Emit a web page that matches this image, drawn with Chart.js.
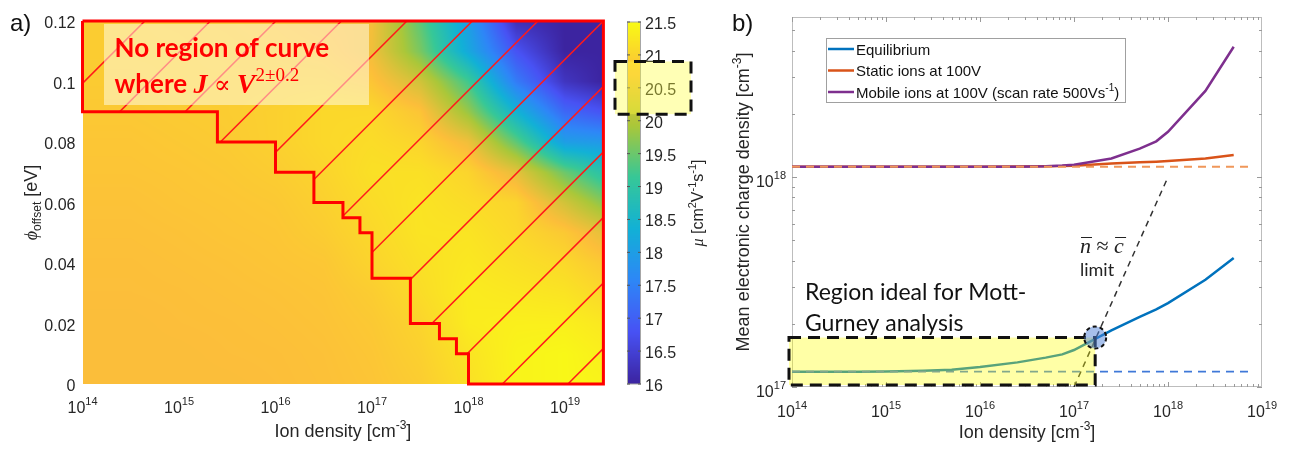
<!DOCTYPE html>
<html>
<head>
<meta charset="utf-8">
<script src="https://cdn.jsdelivr.net/npm/chart.js@4.4.1/dist/chart.umd.min.js"></script>
<style>
  body { margin: 0; background: #fff; }
  .layer { position: absolute; left: 0; top: 0; width: 1296px; height: 452px; }
</style>
</head>
<body>
<div class="layer"><canvas id="mapChart" width="1296" height="452"></canvas></div>
<div class="layer"><canvas id="barChart" width="1296" height="452"></canvas></div>
<div class="layer"><canvas id="densChart" width="1296" height="452"></canvas></div>
<script>
// ---------- panel a) : mobility map ----------
const ionGrid = [1e14, 3.16e14, 1e15, 3.16e15, 1e16, 3.16e16, 1e17, 3.16e17, 1e18, 3.16e18, 1e19, 2.5e19];
const phiGrid = [0, 0.01, 0.02, 0.03, 0.04, 0.05, 0.06, 0.07, 0.08, 0.09, 0.10, 0.11, 0.12];
// mu [cm2 V-1 s-1], one row per phiGrid value (phi = 0 first)
const mobility = [
  [20.7, 20.7, 20.7, 20.7, 20.72, 20.75, 20.8, 20.9, 21.15, 21.4, 21.45, 21.4],
  [20.7, 20.7, 20.7, 20.72, 20.73, 20.76, 20.82, 20.95, 21.2, 21.4, 21.45, 21.35],
  [20.7, 20.7, 20.72, 20.73, 20.75, 20.78, 20.85, 21.0, 21.3, 21.35, 21.35, 21.25],
  [20.72, 20.72, 20.73, 20.75, 20.77, 20.8, 20.9, 21.1, 21.3, 21.25, 21.2, 21.05],
  [20.73, 20.73, 20.75, 20.77, 20.8, 20.83, 21.0, 21.15, 21.25, 21.15, 21.05, 20.85],
  [20.75, 20.75, 20.77, 20.8, 20.82, 20.9, 21.05, 21.2, 21.2, 21.05, 20.85, 20.5],
  [20.77, 20.77, 20.8, 20.82, 20.85, 20.95, 21.1, 21.2, 21.1, 21.0, 20.3, 19.7],
  [20.8, 20.8, 20.82, 20.85, 20.9, 21.0, 21.15, 21.15, 21.0, 20.5, 19.5, 18.9],
  [20.82, 20.82, 20.85, 20.88, 20.95, 21.05, 21.1, 21.0, 20.6, 19.4, 18.0, 17.9],
  [20.85, 20.85, 20.88, 20.9, 20.95, 21.05, 21.05, 20.8, 19.8, 18.4, 17.1, 16.8],
  [20.88, 20.88, 20.9, 20.9, 20.9, 20.9, 20.8, 20.3, 19.2, 17.4, 16.3, 16.0],
  [20.9, 20.9, 20.9, 20.88, 20.85, 20.8, 20.6, 19.6, 18.2, 16.8, 16.0, 16.0],
  [20.9, 20.9, 20.88, 20.85, 20.8, 20.7, 20.65, 19.4, 18.0, 16.2, 16.0, 16.0]
];
// outline of the "no J ~ V^2" region
const edgeIon = [1e14, 2.5e19, 2.5e19, 1e18, 1e18, 7.5e17, 7.5e17, 5e17, 5e17, 2.5e17, 2.5e17, 1e17, 1e17,
  7.5e16, 7.5e16, 5e16, 5e16, 2.5e16, 2.5e16, 1e16, 1e16, 2.5e15, 2.5e15, 1e14, 1e14];
const edgePhi = [0.12, 0.12, 0, 0, 0.01, 0.01, 0.015, 0.015, 0.02, 0.02, 0.035, 0.035, 0.05,
  0.05, 0.055, 0.055, 0.06, 0.06, 0.07, 0.07, 0.08, 0.08, 0.09, 0.09, 0.12];
const phiTicks = [0, 0.02, 0.04, 0.06, 0.08, 0.1, 0.12];
const ionExpTicks = [14, 15, 16, 17, 18, 19];
const colorTicks = [16, 16.5, 17, 17.5, 18, 18.5, 19, 19.5, 20, 20.5, 21, 21.5];
const highlightMu = [20.1, 20.9];

// ---------- panel b) : mean electronic charge density ----------
const ionDensity = [1e14, 2.5e14, 5e14, 1e15, 2.5e15, 5e15, 1e16, 2.5e16, 5e16, 7.5e16, 1e17, 2.5e17, 5e17, 7.5e17, 1e18, 2.5e18, 5e18];
const equilibrium = [1.183e17, 1.183e17, 1.183e17, 1.186e17, 1.194e17, 1.208e17, 1.245e17, 1.31e17, 1.38e17, 1.43e17,
  1.50e17, 1.86e17, 2.16e17, 2.34e17, 2.51e17, 3.24e17, 4.11e17];
const staticIons = [1.119e18, 1.119e18, 1.119e18, 1.119e18, 1.119e18, 1.119e18, 1.12e18, 1.122e18, 1.125e18, 1.127e18,
  1.132e18, 1.159e18, 1.175e18, 1.183e18, 1.191e18, 1.225e18, 1.274e18];
const mobileIons = [1.119e18, 1.119e18, 1.119e18, 1.119e18, 1.119e18, 1.119e18, 1.119e18, 1.12e18, 1.125e18, 1.133e18,
  1.143e18, 1.225e18, 1.365e18, 1.479e18, 1.641e18, 2.57e18, 4.169e18];
const equilibriumBase = 1.183e17;
const staticBase = 1.119e18;
const baseRange = [1e14, 8e18];
const limitIon = [1e17, 1e18];
const limitDensity = [1e17, 1e18];
const mottPoint = { x: 1.68e17, y: 1.72e17 };
const densExpTicks = [17, 18];

const FONT = '"Liberation Sans", Arial, sans-serif';
const CAL = 'Lato, "Open Sans", sans-serif';
const SERIF = '"Liberation Serif", "DejaVu Serif", serif';
const INK = '#262626';

const parulaStops = [[60, 36, 160], [72, 82, 244], [46, 135, 247], [18, 177, 214], [55, 200, 151], [171, 199, 57], [252, 190, 58], [249, 251, 21]];
function parula(v) {
  let t = (v - 16) / 5.5;
  t = Math.max(0, Math.min(1, t)) * 7;
  const i = Math.min(6, Math.floor(t)), f = t - i;
  const a = parulaStops[i], b = parulaStops[i + 1];
  return [a[0] + (b[0] - a[0]) * f, a[1] + (b[1] - a[1]) * f, a[2] + (b[2] - a[2]) * f];
}

function tex(str, size, family, color) {
  return str.split(/(\^\{[^}]*\}|_\{[^}]*\})/).filter(s => s).map(p => {
    if (p.startsWith('^{')) return { t: p.slice(2, -1), font: Math.round(size * 0.68) + 'px ' + family, dy: -size * 0.42, color };
    if (p.startsWith('_{')) return { t: p.slice(2, -1), font: Math.round(size * 0.68) + 'px ' + family, dy: size * 0.25, color };
    return { t: p, font: size + 'px ' + family, dy: 0, color };
  });
}

function drawRuns(ctx, runs, x, y, align) {
  let total = 0;
  runs.forEach(r => { ctx.font = r.font; r.w = ctx.measureText(r.t).width; total += r.w; });
  let cx = align === 'center' ? x - total / 2 : align === 'right' ? x - total : x;
  ctx.textAlign = 'left';
  ctx.textBaseline = 'alphabetic';
  runs.forEach(r => {
    ctx.font = r.font;
    ctx.fillStyle = r.color || INK;
    ctx.fillText(r.t, cx, y + (r.dy || 0));
    cx += r.w;
  });
  return total;
}

function drawRotated(ctx, runs, cx, cy) {
  ctx.save();
  ctx.translate(cx, cy);
  ctx.rotate(-Math.PI / 2);
  drawRuns(ctx, runs, 0, 6, 'center');
  ctx.restore();
}

function powLabel(ctx, exp, x, y, align) {
  drawRuns(ctx, [{ t: '10', font: '16px ' + FONT }, { t: String(exp), font: '11px ' + FONT, dy: -8 }], x, y, align);
}

function edgePath(ctx, xs, ys) {
  ctx.beginPath();
  edgeIon.forEach((v, i) => {
    const px = xs.getPixelForValue(v), py = ys.getPixelForValue(edgePhi[i]);
    if (i === 0) ctx.moveTo(px, py); else ctx.lineTo(px, py);
  });
  ctx.closePath();
}

const mapDecor = {
  id: 'mapDecor',
  beforeDatasetsDraw(chart) {
    const { ctx, chartArea: a, scales: { x, y } } = chart;
    const w = Math.round(a.right - a.left), h = Math.round(a.bottom - a.top);
    const off = document.createElement('canvas');
    off.width = w; off.height = h;
    const octx = off.getContext('2d');
    const img = octx.createImageData(w, h);
    const lg = ionGrid.map(v => Math.log10(v));
    const colK = [], colF = [];
    for (let i = 0; i < w; i++) {
      const lv = Math.log10(x.getValueForPixel(a.left + i + 0.5));
      let k = 0;
      while (k < lg.length - 2 && lv > lg[k + 1]) k++;
      colK.push(k);
      colF.push(Math.max(0, Math.min(1, (lv - lg[k]) / (lg[k + 1] - lg[k]))));
    }
    for (let j = 0; j < h; j++) {
      const phi = y.getValueForPixel(a.top + j + 0.5);
      let r = 0;
      while (r < phiGrid.length - 2 && phi > phiGrid[r + 1]) r++;
      const fy = Math.max(0, Math.min(1, (phi - phiGrid[r]) / (phiGrid[r + 1] - phiGrid[r])));
      const r0 = mobility[r], r1 = mobility[r + 1];
      for (let i = 0; i < w; i++) {
        const k = colK[i], fx = colF[i];
        const lo = r0[k] + (r0[k + 1] - r0[k]) * fx;
        const hi = r1[k] + (r1[k + 1] - r1[k]) * fx;
        const c = parula(lo + (hi - lo) * fy);
        const p = (j * w + i) * 4;
        img.data[p] = c[0]; img.data[p + 1] = c[1]; img.data[p + 2] = c[2]; img.data[p + 3] = 255;
      }
    }
    octx.putImageData(img, 0, 0);
    ctx.drawImage(off, a.left, a.top, a.right - a.left, a.bottom - a.top);

    // hatching inside the outlined region, one line through the top-right corner
    ctx.save();
    edgePath(ctx, x, y);
    ctx.clip();
    ctx.strokeStyle = '#ff1a1a';
    ctx.lineWidth = 1.5;
    const step = 65.5;
    let c = a.right + a.top;
    while (c > a.left + a.top) c -= step;
    for (; c < a.right + a.bottom; c += step) {
      ctx.beginPath();
      ctx.moveTo(c - a.bottom, a.bottom);
      ctx.lineTo(c - a.top, a.top);
      ctx.stroke();
    }
    ctx.restore();
  },
  afterDatasetsDraw(chart) {
    const { ctx, chartArea: a } = chart;
    // note box
    ctx.save();
    ctx.fillStyle = 'rgba(255,255,240,0.5)';
    ctx.fillRect(a.left + 21.5, a.top + 3, 265, 81);
    const red = '#ff0000';
    drawRuns(ctx, [{ t: 'No region of curve', font: 'bold 26px ' + CAL, color: red }], a.left + 32, a.top + 36, 'left');
    drawRuns(ctx, [
      { t: 'where ', font: 'bold 26px ' + CAL, color: red },
      { t: 'J', font: 'bold italic 28px ' + SERIF, color: red },
      { t: ' \u221D ', font: '25px ' + SERIF, color: red },
      { t: 'V', font: 'bold italic 28px ' + SERIF, color: red },
      { t: '2\u00B10.2', font: '19px ' + SERIF, color: red, dy: -12 }
    ], a.left + 32, a.top + 72, 'left');
    ctx.restore();
  },
  afterDraw(chart) {
    const { ctx, chartArea: a, scales: { x, y } } = chart;
    ctx.save();
    phiTicks.forEach(v => {
      drawRuns(ctx, [{ t: String(v), font: '16px ' + FONT }], a.left - 7, y.getPixelForValue(v) + 7, 'right');
    });
    ionExpTicks.forEach(e => powLabel(ctx, e, x.getPixelForValue(Math.pow(10, e)), a.bottom + 29, 'center'));
    drawRuns(ctx, tex('Ion density [cm^{-3}]', 18, FONT), (a.left + a.right) / 2, 437, 'center');
    drawRotated(ctx, [
      { t: '\u03D5', font: 'italic 18px ' + SERIF },
      { t: 'offset', font: '12px ' + FONT, dy: 4 },
      { t: ' [eV]', font: '18px ' + FONT }
    ], 31, (a.top + a.bottom) / 2);
    drawRuns(ctx, [{ t: 'a)', font: '24px ' + FONT, color: '#111' }], 10, 31, 'left');
    ctx.restore();
  }
};

new Chart(document.getElementById('mapChart'), {
  type: 'line',
  data: {
    datasets: [{
      data: edgeIon.map((v, i) => ({ x: v, y: edgePhi[i] })),
      borderColor: '#ff0000',
      borderWidth: 3,
      pointRadius: 0,
      tension: 0,
      fill: false,
      clip: false
    }]
  },
  options: {
    responsive: false,
    animation: false,
    events: [],
    layout: { padding: { left: 82.5, top: 21, right: 1296 - 603.4, bottom: 68 } },
    plugins: { legend: { display: false }, tooltip: { enabled: false } },
    scales: {
      x: { type: 'logarithmic', min: 1e14, max: 2.5e19, display: false },
      y: { type: 'linear', min: 0, max: 0.12, display: false }
    }
  },
  plugins: [mapDecor]
});

// ---------- colour bar ----------
const barDecor = {
  id: 'barDecor',
  afterDraw(chart) {
    const { ctx, chartArea: a, scales: { y } } = chart;
    ctx.save();
    for (let py = Math.floor(a.top); py < a.bottom; py++) {
      const c = parula(y.getValueForPixel(py + 0.5));
      ctx.fillStyle = `rgb(${c[0] | 0},${c[1] | 0},${c[2] | 0})`;
      ctx.fillRect(a.left, py, a.right - a.left, 1);
    }
    ctx.strokeStyle = '#a6a6a6';
    ctx.lineWidth = 1;
    ctx.strokeRect(a.left + 0.5, a.top, a.right - a.left - 1, a.bottom - a.top);
    colorTicks.forEach(v => {
      const py = y.getPixelForValue(v);
      ctx.strokeStyle = '#555';
      ctx.beginPath();
      ctx.moveTo(a.right - 3, py); ctx.lineTo(a.right, py);
      ctx.moveTo(a.left, py); ctx.lineTo(a.left + 3, py);
      ctx.stroke();
      drawRuns(ctx, [{ t: String(v), font: '16px ' + FONT }], a.right + 4, py + 7, 'left');
    });
    drawRotated(ctx, [
      { t: '\u03BC', font: 'italic 16px ' + SERIF },
      { t: ' [cm', font: '16px ' + FONT },
      { t: '2', font: '11px ' + FONT, dy: -7 },
      { t: 'V', font: '16px ' + FONT },
      { t: '-1', font: '11px ' + FONT, dy: -7 },
      { t: 's', font: '16px ' + FONT },
      { t: '-1', font: '11px ' + FONT, dy: -7 },
      { t: ']', font: '16px ' + FONT }
    ], 697, (a.top + a.bottom) / 2);
    // highlighted mobility range
    const top = y.getPixelForValue(highlightMu[1]), bot = y.getPixelForValue(highlightMu[0]);
    ctx.fillStyle = 'rgba(255,255,60,0.38)';
    ctx.fillRect(a.left - 12, top, 76, bot - top);
    ctx.strokeStyle = '#111';
    ctx.lineWidth = 3;
    ctx.setLineDash([12, 7]);
    ctx.strokeRect(a.left - 12, top, 76, bot - top);
    ctx.restore();
  }
};

new Chart(document.getElementById('barChart'), {
  type: 'line',
  data: { datasets: [] },
  options: {
    responsive: false,
    animation: false,
    events: [],
    layout: { padding: { left: 627, top: 22, right: 1296 - 641, bottom: 68 } },
    plugins: { legend: { display: false }, tooltip: { enabled: false } },
    scales: {
      x: { type: 'linear', min: 0, max: 1, display: false },
      y: { type: 'linear', min: 16, max: 21.5, display: false }
    }
  },
  plugins: [barDecor]
});

// ---------- panel b) chart ----------
const pts = (xs, ys) => xs.map((v, i) => ({ x: v, y: ys[i] }));

const densDecor = {
  id: 'densDecor',
  beforeDatasetsDraw(chart) {
    const { ctx, chartArea: a, scales: { x, y } } = chart;
    ctx.save();
    ctx.strokeStyle = '#bdbdbd';
    ctx.lineWidth = 1;
    ctx.strokeRect(a.left + 0.5, a.top + 0.5, a.right - a.left - 1, a.bottom - a.top - 1);
    ctx.strokeStyle = '#9a9a9a';
    ctx.beginPath();
    for (let e = 14; e < 19; e++) {
      for (let m = 1; m < 10; m++) {
        const px = Math.round(x.getPixelForValue(m * Math.pow(10, e))) + 0.5;
        const len = m === 1 ? 5 : 3;
        ctx.moveTo(px, a.bottom); ctx.lineTo(px, a.bottom - len);
        ctx.moveTo(px, a.top); ctx.lineTo(px, a.top + len);
      }
    }
    for (let e = 17; e < 19; e++) {
      for (let m = 1; m < 10; m++) {
        const v = m * Math.pow(10, e);
        if (v > y.max) break;
        const py = Math.round(y.getPixelForValue(v)) + 0.5;
        const len = m === 1 ? 5 : 3;
        ctx.moveTo(a.left, py); ctx.lineTo(a.left + len, py);
        ctx.moveTo(a.right, py); ctx.lineTo(a.right - len, py);
      }
    }
    ctx.stroke();
    ctx.restore();
  },
  afterDatasetsDraw(chart) {
    const { ctx, chartArea: a, scales: { x, y } } = chart;
    const mx = x.getPixelForValue(mottPoint.x), my = y.getPixelForValue(mottPoint.y);
    ctx.save();
    // ideal region box
    const left = a.left - 3, bottom = a.bottom - 2;
    ctx.fillStyle = 'rgba(255,255,0,0.35)';
    ctx.fillRect(left, my, mx - left, bottom - my);
    ctx.strokeStyle = '#111';
    ctx.lineWidth = 3;
    ctx.setLineDash([12, 7]);
    ctx.strokeRect(left, my, mx - left, bottom - my);
    // crossing point
    ctx.beginPath();
    ctx.arc(mx, my, 11, 0, Math.PI * 2);
    ctx.fillStyle = 'rgba(80,130,215,0.5)';
    ctx.fill();
    ctx.lineWidth = 2;
    ctx.setLineDash([4, 3]);
    ctx.stroke();
    ctx.setLineDash([]);
    // annotations
    drawRuns(ctx, [{ t: 'Region ideal for Mott-', font: '23px ' + CAL, color: '#111' }], 805, 300, 'left');
    drawRuns(ctx, [{ t: 'Gurney analysis', font: '23px ' + CAL, color: '#111' }], 805, 331, 'left');
    ctx.font = 'italic 22px ' + SERIF;
    const wn = ctx.measureText('n').width;
    drawRuns(ctx, [
      { t: 'n', font: 'italic 22px ' + SERIF, color: '#222' },
      { t: ' \u2248 ', font: '22px ' + SERIF, color: '#222' },
      { t: 'c', font: 'italic 22px ' + SERIF, color: '#222' }
    ], 1080, 253, 'left');
    ctx.font = '22px ' + SERIF;
    const wa = ctx.measureText(' \u2248 ').width;
    ctx.strokeStyle = '#222';
    ctx.lineWidth = 1.2;
    ctx.beginPath();
    ctx.moveTo(1081, 237.5); ctx.lineTo(1080 + wn + 1, 237.5);
    ctx.moveTo(1081 + wn + wa, 237.5); ctx.lineTo(1080 + wn + wa + wn + 1, 237.5);
    ctx.stroke();
    drawRuns(ctx, [{ t: 'limit', font: '18px ' + CAL, color: '#222' }], 1080, 276, 'left');
    ctx.restore();
  },
  afterDraw(chart) {
    const { ctx, chartArea: a, scales: { x, y } } = chart;
    ctx.save();
    ionExpTicks.forEach(e => powLabel(ctx, e, x.getPixelForValue(Math.pow(10, e)), a.bottom + 30, 'center'));
    densExpTicks.forEach(e => powLabel(ctx, e, a.left - 6, y.getPixelForValue(Math.pow(10, e)) + 10, 'right'));
    drawRuns(ctx, tex('Ion density [cm^{-3}]', 18, FONT), (a.left + a.right) / 2, 438, 'center');
    drawRotated(ctx, tex('Mean electronic charge density [cm^{-3}]', 18, FONT), 743, (a.top + a.bottom) / 2);
    drawRuns(ctx, [{ t: 'b)', font: '24px ' + FONT, color: '#111' }], 732, 31, 'left');
    // legend
    ctx.fillStyle = '#fff';
    ctx.fillRect(826, 38, 300, 64);
    ctx.strokeStyle = '#a0a0a0';
    ctx.lineWidth = 1;
    ctx.strokeRect(826.5, 38.5, 299, 64);
    chart.data.datasets.filter(d => d.label).forEach((d, i) => {
      const ry = 49 + i * 21.5;
      ctx.strokeStyle = d.borderColor;
      ctx.lineWidth = 2.5;
      ctx.beginPath();
      ctx.moveTo(828, ry); ctx.lineTo(854, ry);
      ctx.stroke();
      drawRuns(ctx, tex(d.label, 15, FONT, '#111'), 856, ry + 5.5, 'left');
    });
    ctx.restore();
  }
};

new Chart(document.getElementById('densChart'), {
  type: 'line',
  data: {
    datasets: [
      { label: 'Equilibrium', data: pts(ionDensity, equilibrium), borderColor: '#0072BD', borderWidth: 2.5, order: 5 },
      { label: 'Static ions at 100V', data: pts(ionDensity, staticIons), borderColor: '#D95319', borderWidth: 2.5, order: 4 },
      { label: 'Mobile ions at 100V (scan rate 500Vs^{-1})', data: pts(ionDensity, mobileIons), borderColor: '#7E2F8E', borderWidth: 2.5, order: 3 },
      { data: pts(baseRange, [equilibriumBase, equilibriumBase]), borderColor: '#3f78d8', borderWidth: 1.8, borderDash: [8, 6], order: 1 },
      { data: pts(baseRange, [staticBase, staticBase]), borderColor: '#f0975a', borderWidth: 2.2, borderDash: [8, 6], order: 1 },
      { data: pts(limitIon, limitDensity), borderColor: '#333', borderWidth: 1.5, borderDash: [6, 5], order: 2 }
    ].map(d => Object.assign({ pointRadius: 0, tension: 0, fill: false }, d))
  },
  options: {
    responsive: false,
    animation: false,
    events: [],
    layout: { padding: { left: 792, top: 17, right: 34, bottom: 65 } },
    plugins: { legend: { display: false }, tooltip: { enabled: false } },
    scales: {
      x: { type: 'logarithmic', min: 1e14, max: 1e19, display: false },
      y: { type: 'logarithmic', min: 1e17, max: 5.78e18, display: false }
    }
  },
  plugins: [densDecor]
});
</script>
</body>
</html>
